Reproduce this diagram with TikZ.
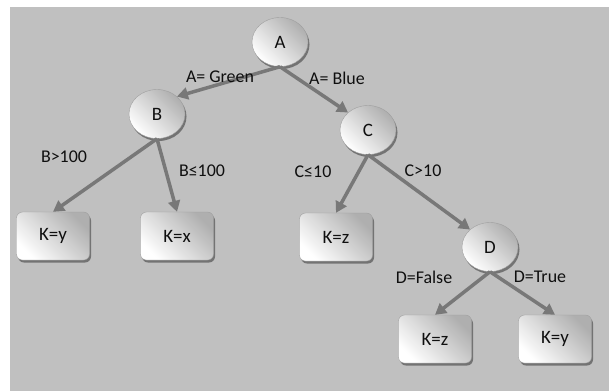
\documentclass[tikz,border=0pt]{standalone}
\usepackage{fontspec}
\setmainfont{Carlito}
\usetikzlibrary{shapes.geometric,shadows,arrows.meta}
\definecolor{bg}{RGB}{192,192,192}
\definecolor{arrgray}{RGB}{120,120,120}
\definecolor{nodedark}{RGB}{175,175,175}
\definecolor{txt}{RGB}{15,15,15}
\tikzset{
  nodeshade/.style={left color=white, right color=nodedark, shading angle=135,
    draw=gray!75, line width=0.4bp,
    drop shadow={shadow xshift=1.5bp, shadow yshift=-2.5bp, fill=black, opacity=0.4}},
  decision/.style={ellipse, nodeshade, minimum width=56bp, minimum height=49bp, inner sep=0pt,
    font=\fontsize{19}{22}\selectfont, text=txt},
  leaf/.style={rectangle, rounded corners=6bp, nodeshade, minimum width=73bp, minimum height=48bp,
    inner sep=0pt, font=\fontsize{19}{22}\selectfont, text=txt},
  arr/.style={draw=arrgray, line width=3.5bp, -{Triangle[length=11bp,width=12bp]}, fill=arrgray},
  elabel/.style={font=\fontsize{18}{21}\selectfont, text=txt, inner sep=0pt}
}
\begin{document}
\begin{tikzpicture}[x=1bp,y=-1bp]
\useasboundingbox (0,0) rectangle (609,391);
\fill[white] (0,0) rectangle (609,391);
\fill[bg] (10,7) rectangle (609,391);

\node[decision] (A) at (280,42) {A};
\node[decision] (B) at (157,114) {B};
\node[decision] (C) at (368,130) {C};
\node[decision] (D) at (490,247) {D};

\node[leaf] (ky1) at (53,236) {K=y};
\node[leaf] (kx)  at (177,236) {K=x};
\node[leaf] (kz1) at (336,237) {K=z};
\node[leaf] (kz2) at (435,339) {K=z};
\node[leaf] (ky2) at (555,339) {K=y};

\draw[arr] (A.south) -- (B.north east);
\draw[arr] (A.south) -- (C.north west);
\draw[arr] (B.south) -- (ky1.north);
\draw[arr] (B.south) -- (kx.north);
\draw[arr] (C.south) -- (kz1.north);
\draw[arr] (C.south) -- (D.north west);
\draw[arr] (D.south) -- (kz2.north);
\draw[arr] (D.south) -- (ky2.north);

\node[elabel] (lag) at (220,77) {A= Green};
\node[elabel] (lab) at (337,78) {A= Blue};
\node[elabel] (lb1) at (64,157) {B>100};
\node[elabel] (lb2) at (202,171) {B≤100};
\node[elabel] (lc1) at (313,172) {C≤10};
\node[elabel] (lc2) at (423,171) {C>10};
\node[elabel] (ld1) at (424,277) {D=False};
\node[elabel] (ld2) at (540,277) {D=True};
\end{tikzpicture}
\end{document}
